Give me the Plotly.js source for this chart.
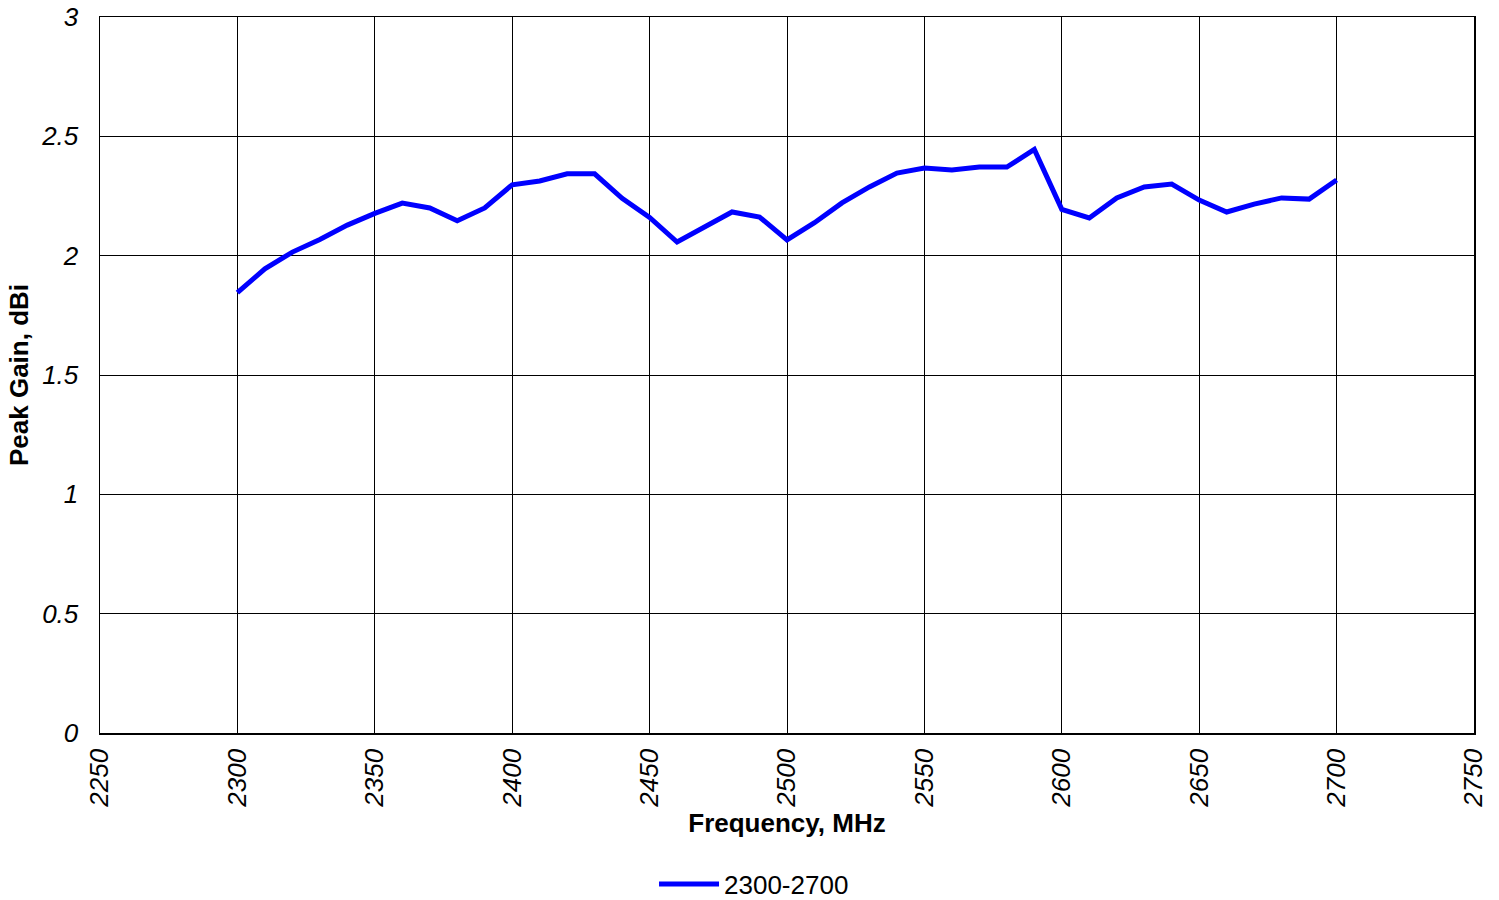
<!DOCTYPE html>
<html>
<head>
<meta charset="utf-8">
<script src="https://cdn.plot.ly/plotly-3.0.1.min.js"></script>
<style>
html,body{margin:0;padding:0;background:#fff;}
#chart{width:1499px;height:900px;}
</style>
</head>
<body>
<div id="chart"></div>
<script>
const seriesName = "2300-2700";
const frequencies = [2300,2310,2320,2330,2340,2350,2360,2370,2380,2390,2400,2410,2420,2430,2440,2450,2460,2470,2480,2490,2500,2510,2520,2530,2540,2550,2560,2570,2580,2590,2600,2610,2620,2630,2640,2650,2660,2670,2680,2690,2700];
const peakGain = [1.845,1.945,2.015,2.068,2.128,2.177,2.220,2.200,2.146,2.200,2.297,2.313,2.343,2.343,2.240,2.160,2.057,2.120,2.183,2.162,2.066,2.138,2.221,2.288,2.346,2.367,2.359,2.371,2.371,2.445,2.194,2.158,2.242,2.288,2.300,2.233,2.183,2.216,2.242,2.237,2.317];
const xTicks = [2250,2300,2350,2400,2450,2500,2550,2600,2650,2700,2750];
const yTicks = [0,0.5,1,1.5,2,2.5,3];
const yTickText = ["0","0.5","1","1.5","2","2.5","3"];

const fontFam = "Liberation Sans, Arial, sans-serif";
const fs = 26;

const trace = {
  x: frequencies,
  y: peakGain,
  type: 'scatter',
  mode: 'lines',
  name: seriesName,
  line: {color: '#0000ff', width: 5}
};

const layout = {
  width: 1499,
  height: 900,
  margin: {l: 100, r: 25, t: 17, b: 167, autoexpand: false},
  paper_bgcolor: '#ffffff',
  plot_bgcolor: '#ffffff',
  showlegend: true,
  font: {family: fontFam, color: '#000000', size: fs},
  xaxis: {
    range: [2250, 2750],
    tickmode: 'array',
    tickvals: xTicks,
    ticktext: xTicks.map(String),
    tickangle: -90,
    tickfont: {family: fontFam, size: fs, style: 'italic', color: '#000'},
    ticks: '',
    ticklabelstandoff: 4,
    automargin: false,
    showgrid: true,
    gridcolor: '#000000',
    gridwidth: 1,
    zeroline: false,
    showline: true,
    linecolor: '#000000',
    linewidth: 1.5,
    mirror: true,
    title: {text: 'Frequency, MHz', font: {family: fontFam, size: fs, weight: 'bold', color: '#000'}, standoff: 6}
  },
  yaxis: {
    range: [0, 3],
    tickmode: 'array',
    tickvals: yTicks,
    ticktext: yTickText,
    tickfont: {family: fontFam, size: fs, style: 'italic', color: '#000'},
    ticks: '',
    ticklabelstandoff: 15,
    automargin: false,
    showgrid: true,
    gridcolor: '#000000',
    gridwidth: 1,
    zeroline: false,
    showline: true,
    linecolor: '#000000',
    linewidth: 1.5,
    mirror: true,
    title: {text: 'Peak Gain, dBi', font: {family: fontFam, size: fs, weight: 'bold', color: '#000'}, standoff: 5}
  },
  legend: {
    orientation: 'h',
    x: 0.476,
    xanchor: 'center',
    y: -0.211,
    yanchor: 'middle',
    font: {family: fontFam, size: fs, color: '#000'},
    itemwidth: 60,
    bgcolor: 'rgba(0,0,0,0)'
  }
};

Plotly.newPlot('chart', [trace], layout, {displayModeBar: false, staticPlot: true});
</script>
</body>
</html>
